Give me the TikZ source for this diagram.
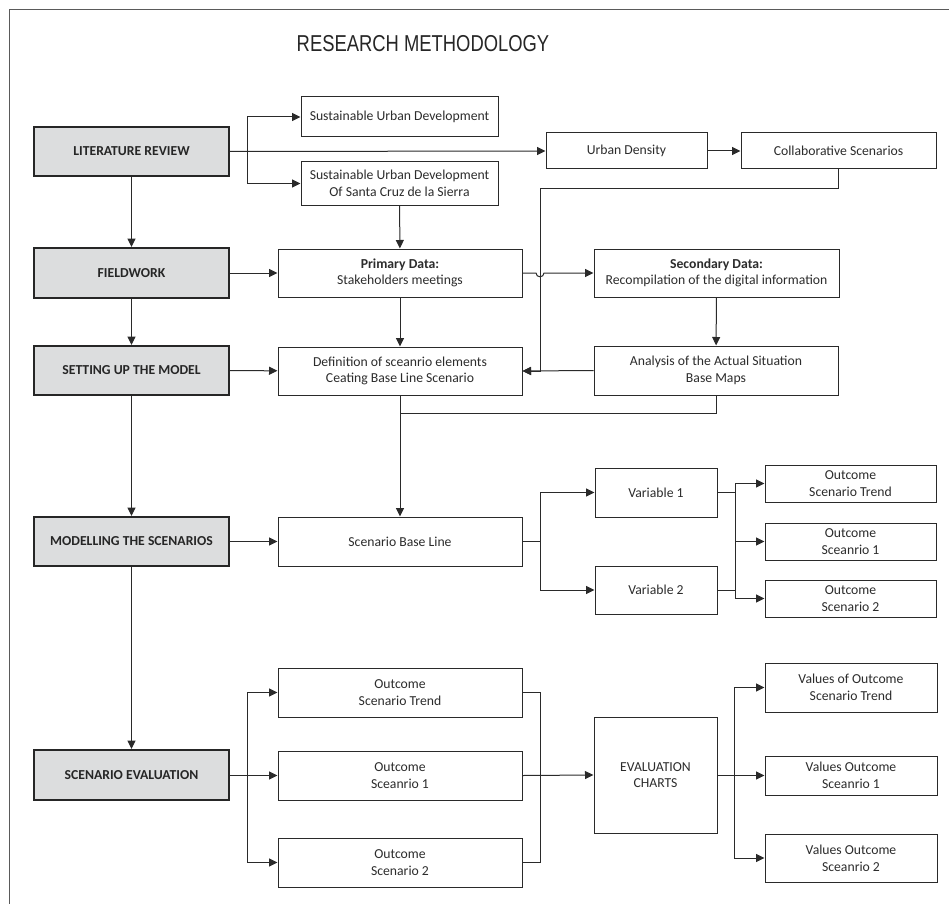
\documentclass[tikz,border=0pt]{standalone}
\usepackage{fontspec}
\usepackage{graphicx}
\setmainfont{Carlito}
\newfontfamily\titlefont{Liberation Sans}
\usetikzlibrary{arrows.meta}
\definecolor{linecol}{HTML}{2A2A2A}
\definecolor{textcol}{HTML}{2C2C2C}
\definecolor{stepfill}{HTML}{DCDDDE}
\definecolor{framecol}{HTML}{5A5A5A}
\tikzset{
  txt/.style={font=\fontsize{13.7}{16.7}\selectfont, text=textcol, align=center},
  wbox/.style={txt, draw=linecol, line width=1pt, fill=white, inner sep=0pt},
  stage/.style={txt, draw=black!85, line width=2pt, fill=stepfill, inner sep=0pt,
    font=\fontsize{13.7}{16.7}\selectfont\bfseries, text=black!85,
    minimum width=195pt},
  conn/.style={draw=linecol, line width=1pt},
  arr/.style={conn, -{Triangle[length=8.5pt,width=8pt]}},
}
\begin{document}
\begin{tikzpicture}[x=1pt,y=-1pt]
\useasboundingbox (0,0) rectangle (949,904);
% outer frame (top and left edges)
\draw[framecol, line width=1.5pt] (949,9.5) -- (9.5,9.5) -- (9.5,904);

% title
\node[anchor=base, text=black!85] (title) at (423,52)
  {\scalebox{0.8}[1]{\titlefont\fontsize{23}{27}\selectfont RESEARCH METHODOLOGY}};

% main stages
\node[stage, minimum height=49pt] (lr)  at (131.5,151.5) {LITERATURE REVIEW};
\node[stage, minimum height=50pt] (fw)  at (131.5,273)   {FIELDWORK};
\node[stage, minimum height=49pt] (sum) at (131.5,370.5) {SETTING UP THE MODEL};
\node[stage, minimum height=49pt] (mts) at (131.5,541.5) {MODELLING THE SCENARIOS};
\node[stage, minimum height=50pt] (se)  at (131.5,775)   {SCENARIO EVALUATION};

% literature branch
\node[wbox, minimum width=197pt, minimum height=40pt] (sud)   at (399.5,117)   {Sustainable Urban Development};
\node[wbox, minimum width=197pt, minimum height=43pt] (sudsc) at (399.5,183.5) {Sustainable Urban Development\\Of Santa Cruz de la Sierra};
\node[wbox, minimum width=161pt, minimum height=36pt] (ud)    at (626.5,151)   {Urban Density};
\node[wbox, minimum width=195pt, minimum height=36pt] (cs)    at (838.5,151)   {Collaborative Scenarios};

% fieldwork and model set-up
\node[wbox, minimum width=244pt, minimum height=48pt] (pd)  at (400,273)   {\textbf{Primary Data:}\\Stakeholders meetings};
\node[wbox, minimum width=245pt, minimum height=48pt] (sd)  at (716.5,273) {\textbf{Secondary Data:}\\Recompilation of the digital information};
\node[wbox, minimum width=244pt, minimum height=48pt] (def) at (400,371)   {Definition of sceanrio elements\\Ceating Base Line Scenario};
\node[wbox, minimum width=244pt, minimum height=49pt] (an)  at (716,370.5) {Analysis of the Actual Situation\\Base Maps};

% modelling
\node[wbox, minimum width=244pt, minimum height=49pt] (sbl) at (400,541.5)  {Scenario Base Line};
\node[wbox, minimum width=122pt, minimum height=49pt] (v1)  at (656,492.5)  {Variable 1};
\node[wbox, minimum width=122pt, minimum height=48pt] (v2)  at (656,590)    {Variable 2};
\node[wbox, minimum width=171pt, minimum height=37pt] (ost) at (850.5,483.5) {Outcome\\Scenario Trend};
\node[wbox, minimum width=171pt, minimum height=37pt] (os1) at (850.5,541.5) {Outcome\\Sceanrio 1};
\node[wbox, minimum width=171pt, minimum height=37pt] (os2) at (850.5,598.5) {Outcome\\Scenario 2};

% evaluation
\node[wbox, minimum width=244pt, minimum height=49pt] (eost) at (400,692.5) {Outcome\\Scenario Trend};
\node[wbox, minimum width=244pt, minimum height=49pt] (eos1) at (400,775.5) {Outcome\\Sceanrio 1};
\node[wbox, minimum width=244pt, minimum height=49pt] (eos2) at (400,862.5) {Outcome\\Scenario 2};
\node[wbox, minimum width=123pt, minimum height=116pt] (ec) at (655.5,775) {EVALUATION\\CHARTS};
\node[wbox, minimum width=172pt, minimum height=49pt] (vost) at (851,687.5) {Values of Outcome\\Scenario Trend};
\node[wbox, minimum width=172pt, minimum height=39pt] (vos1) at (851,775.5) {Values Outcome\\Sceanrio 1};
\node[wbox, minimum width=172pt, minimum height=48pt] (vos2) at (851,858)   {Values Outcome\\Sceanrio 2};

% branch points
\coordinate (blr) at (247,151.5);
\coordinate (bsbl) at (540,541.5);
\coordinate (bv1) at (735,492.5);
\coordinate (bv2) at (735,590);
\coordinate (bse) at (247,775);
\coordinate (bev) at (540,692.5);
\coordinate (bev2) at (540,862.5);
\coordinate (bec) at (734,775);
\coordinate (jmp) at (540,273);
\coordinate (merge) at (400,413);

% stage chain
\draw[arr] (lr) -- (fw);
\draw[arr] (fw) -- (sum);
\draw[arr] (sum) -- (mts);
\draw[arr] (mts) -- (se);

% literature review links
\draw[arr] (lr.east) -- (ud.west);
\draw[arr] (blr) |- (sud.west);
\draw[arr] (blr) |- (sudsc.west);
\draw[arr] (ud) -- (cs);
\draw[arr] (sudsc) -- (pd);

% fieldwork links
\draw[arr] (fw) -- (pd);
\draw[arr] (pd.east) -- ([xshift=-4pt]jmp) .. controls ([xshift=-4pt,yshift=-5pt]jmp) and ([xshift=4pt,yshift=-5pt]jmp) .. ([xshift=4pt]jmp) -- (sd.west);
\draw[arr] (sd) -- (an);
\draw[arr] (pd) -- (def);

% set-up links
\draw[arr] (sum) -- (def);
\draw[arr] (an.west) -- (def.east);
\draw[arr] (cs.south) |- (540,188) |- (def.east);
\draw[arr] (def) -- (sbl);
\draw[conn] (an.south) |- (merge);

% modelling links
\draw[arr] (mts) -- (sbl);
\draw[conn] (sbl.east) -- (bsbl);
\draw[arr] (bsbl) |- (v1.west);
\draw[arr] (bsbl) |- (v2.west);
\draw[conn] (v1.east) -- (bv1);
\draw[conn] (v2.east) -- (bv2);
\draw[conn] (bv1) -- (bv2);
\draw[arr] (bv1) |- (ost.west);
\draw[arr] (bv1) |- (os1.west);
\draw[arr] (bv2) |- (os2.west);

% evaluation links
\draw[conn] (se.east) -- (bse);
\draw[arr] (bse) |- (eost.west);
\draw[arr] (bse) |- (eos1.west);
\draw[arr] (bse) |- (eos2.west);
\draw[conn] (eost.east) -- (bev) -- (bev2) -- (eos2.east);
\draw[arr] (eos1.east) -- (ec.west);
\draw[conn] (ec.east) -- (bec);
\draw[arr] (bec) |- (vost.west);
\draw[arr] (bec) |- (vos1.west);
\draw[arr] (bec) |- (vos2.west);
\end{tikzpicture}
\end{document}
